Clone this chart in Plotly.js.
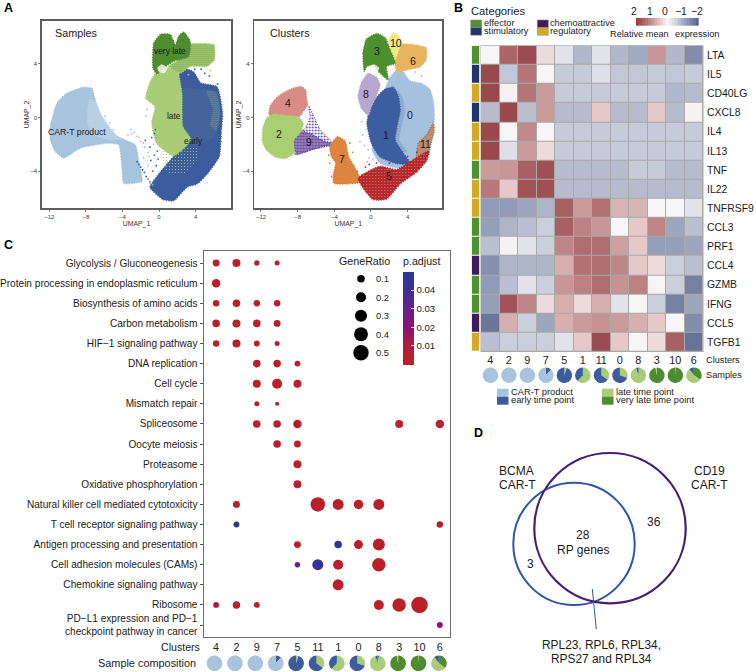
<!DOCTYPE html>
<html>
<head>
<meta charset="utf-8">
<script src="https://cdn.plot.ly/plotly-3.0.1.min.js"></script>
<style>html,body{margin:0;padding:0;background:#fff}#chart{width:756px;height:672px}</style>
</head>
<body>
<div id="chart"></div>
<script>
const N = null;
// ---------- Panel A: UMAP regions, [UMAP_1, UMAP_2]
const carT = [[-11.9,-1.67],[-11.9,-.67],[-11.17,1.07],[-10.07,1.82],[-8.25,2.26],[-7.34,2.19],[-6.97,1.32],[-6.42,.32],[-4.78,-1.29],[-3.69,-1.67],[-2.59,-2.04],[-2.23,-3.16],[-1.86,-4.78],[-3.87,-4.9],[-4.05,-3.91],[-4.42,-2.04],[-5.69,-1.92],[-8.61,-2.29],[-10.44,-3.03],[-11.35,-2.54]];
const carTSparse = [[-7.6,1.4],[-6.9,1.2],[-6.2,.1],[-4.8,-1.3],[-3.9,-1.6],[-5.5,-1.7],[-7.4,-1.2],[-7.9,-.2]];
const early = [[2.4,3.7],[3.8,3.4],[4.53,2.6],[6.35,2.3],[6.95,.32],[6.8,-1.17],[6.6,-2.91],[5.3,-4.2],[4.2,-4.95],[3.07,-5.2],[1.61,-6.2],[.51,-6.15],[-1,-5.2],[.1,-4.1],[1.61,-2.85],[2.4,-1.92],[2.2,-.67],[2.05,1.57]];
const late = [[-1.45,1.44],[-.95,2.7],[.15,3.75],[1.97,3.5],[2.5,1.82],[2.6,-.67],[3.5,-1.67],[1.61,-2.85],[-.25,-1.95],[-.8,-.42],[-.45,.82]];
const lateMix = [[2.5,2.1],[5.99,1.9],[6.72,.32],[5.99,-1.42],[3.8,-2.16],[2.5,-1.17]];
const lateRim = [[5.2,2],[6.3,1.9],[6.7,.3],[6.3,-1],[5.6,-.6],[5.9,.6]];
const earlyEdge = [[.3,-2.6],[2.4,-2.2],[4.2,-2.3],[4,-3.4],[2.4,-4.3],[.9,-4.1]];
const lateBand = [[2.88,5.42],[5.99,5.42],[6.06,4.3],[5.26,3.81],[3.43,3.81],[2.34,3.31],[1.06,3.81],[2.7,4.55]];
const veryLate = [[-.66,3.68],[-.58,5.55],[.15,6.2],[1.24,6.2],[1.79,5.42],[2.15,6.08],[2.7,6.38],[3.43,5.67],[3.25,4.55],[1.61,4.2],[.51,3.7],[-.22,3.25]];
const gapRegion = [[-.2,3.7],[.3,3.98],[.9,3.7],[.6,3.3],[0,3.4]];
const carTStray = [[-3.1,-.9],[-2.7,-1.1],[-2.4,-1.4],[-3.4,-1.3],[-2,-1.8],[-1.6,-2.2],[-1.2,-2.6],[-1.7,-3],[-1.2,-3.6],[-5.4,-.4],[-5.9,.1],[-5,-.9],[-3,-1.2],[-2.2,-1.5]];
const earlyStray = [[-2.4,-3.3],[-2.2,-3.5],[-2,-3.7],[-1.8,-3.9],[-1.6,-4.1],[-1.4,-4.4],[-1.2,-4.6],[-1,-4.8],[-.8,-1.5],[-.5,-1.2],[-1,-2.2],[-.4,-.9],[-1.5,-1.7],[-.5,-2.8],[-.9,-3.2],[-.3,-3.6],[-.7,-4],[5.5,3.1],[5,3.3],[4.6,3.6],[3.9,3.6],[6.4,2.5],[-.1,-3.1],[-.2,-2.5]];
const lateStray = [[-1.2,-4.6],[-1,-4.9],[-.7,-5],[-1.1,-2.9],[-.6,-2],[-1.3,.6],[-1.4,.1],[5.6,3.5],[3.2,3.2],[.6,-.2],[-1.7,-1.9]];
// Clusters
const c0 = [[1.53,2.06],[2.07,3],[3.16,3.7],[4.25,2.75],[5.53,2.55],[6.44,2.1],[6.85,1.07],[6.9,-.3],[6.3,-1.42],[5.16,-2.16],[4.98,-3.16],[3.16,-3.78],[.98,-3.41],[.07,-2.29],[.98,-1.67]];
const c1 = [[-.45,-.42],[-.15,.57],[.6,1.5],[1.53,2.12],[2.44,2.25],[3,1.57],[3.2,.57],[2.85,-.67],[2.65,-1.67],[3.55,-2.66],[4.3,-3.45],[2.8,-3.45],[.98,-2.95],[.05,-1.95]];
const c01Blend = [[2.3,2.4],[3.4,1.6],[3.7,.4],[3.3,-.8],[3.1,-1.7],[4,-2.6],[2.9,-2.4],[2.4,-1],[2.6,.5]];
const c2 = [[-11.85,-1.79],[-11.8,-.8],[-11.4,-.05],[-10.65,.25],[-9.38,.15],[-7.93,.05],[-7.4,-.42],[-7.6,-1.04],[-8.4,-1.67],[-8.4,-2.66],[-9.38,-3.08],[-10.47,-2.95],[-11.42,-2.41]];
const c3 = [[-.73,3.43],[-.88,4.8],[-.5,5.85],[.62,6.27],[1.53,5.97],[2.1,5.05],[2.65,4.05],[1.71,3.81],[1.89,2.81],[.8,3.43],[.25,3.93],[-.47,3.81]];
const c4 = [[-11.12,.2],[-11,.87],[-10.32,1.48],[-9.38,1.92],[-8.29,2.24],[-7.56,2.31],[-7.1,2.01],[-7.03,1.44],[-6.9,.95],[-7.5,.32],[-7.9,.02],[-9.56,.12]];
const c5 = [[-1.42,-4.53],[-.29,-4],[.98,-3.63],[2.8,-3.88],[4.62,-3.13],[6.3,-2.5],[6.12,-3.16],[5,-4.06],[3.2,-4.95],[1.74,-6.07],[.25,-6.14],[-.7,-5.43]];
const c6 = [[3.35,5.45],[4.62,5.45],[6.03,5.2],[6.03,4.3],[5.38,3.78],[3.89,3.53],[2.8,3.4],[2.6,4.18],[2.96,4.93]];
const c7 = [[-4.5,-2.16],[-3.67,-1.42],[-2.8,-1.79],[-2.43,-2.91],[-1.34,-4.28],[-1.23,-4.82],[-2.29,-4.95],[-4.08,-4.9],[-4.08,-4.15],[-3.85,-3.41],[-4.33,-2.91]];
const c8 = [[-1.42,1.57],[-1.05,2.6],[-.29,3.3],[.65,2.97],[1,2.44],[.62,1.69],[.07,.82],[-.29,.17],[-1.05,.7]];
const c9 = [[-6.84,.95],[-6.29,.2],[-5.64,-.8],[-4.47,-1.67],[-4.18,-2.04],[-6.29,-2.36],[-8.29,-2.79],[-8.65,-2.16],[-8.18,-1.29],[-7.2,-.8],[-6.65,.07]];
const c9Core = [[-8.47,-1.79],[-7.56,-1.04],[-6.65,-1.17],[-5.38,-1.67],[-4.29,-1.97],[-6.29,-2.36],[-8.11,-2.71]];
const c10 = [[1.97,5.8],[2.44,6.33],[3,6.12],[3.38,5.55],[3,5.05],[2.62,4.27],[2.22,4.8]];
const c11 = [[5.16,-1.92],[6.07,-1.29],[6.8,-.42],[6.92,-.92],[6.47,-2.16],[6.28,-2.79],[4.98,-3.41],[4.98,-2.66]];
const clusterStray = [[-.9,-1.3],[-.5,-.9],[-1.2,-1.8],[-.3,-2.4],[-.7,-2.1],[-.2,-3],[-1,-.3],[5.5,3.1],[4.8,3.4],[.2,-3.1],[-.4,-3.3]];
const redStray = [[-.6,-3.7],[-.2,-3.5],[.6,-3.4],[2,-3.4],[-1,-4.3],[4,-2.9],[5,-2.6]];
const orangeStray = [[-1.9,-3.6],[-1.5,-4],[-4.5,-3.4],[-2.3,-1.9],[-4.3,-4.4],[-2,-2.6],[-4.6,-2.8]];

const samplesTextItems = ["very late","late","early","CAR-T product"];
const umapTicks = [-12,-8,-4,0,4];
const umapYTicks = [-4,0,4];

// ---------- Panel B
const heatClusters = ["4","2","9","7","5","1","11","0","8","3","10","6"];
const heatGenes = ["LTA","IL5","CD40LG","CXCL8","IL4","IL13","TNF","IL22","TNFRSF9","CCL3","PRF1","CCL4","GZMB","IFNG","CCL5","TGFB1"];
const geneCategory = ["effector","stimulatory","regulatory","stimulatory","regulatory","regulatory","effector","regulatory","regulatory","effector","effector","chemoattractive","effector","effector","chemoattractive","regulatory"];
const categoryNames = ["effector","stimulatory","chemoattractive","regulatory"];
const relativeExpression = [
 [-.03,1.6,1.9,.3,-.3,-.9,-.3,-.9,-1.1,1.0,-.9,-1.5],
 [1.95,-.7,1.4,.02,-.65,-.65,-.35,-.7,-.7,-.65,-.7,-.65],
 [1.95,.05,1.4,.95,-.65,-.65,-.65,-.65,-.65,-.65,-.9,-.85],
 [-.85,1.95,-.8,.95,-.85,-.85,.5,-.85,-.85,.5,-.85,.04],
 [1.95,-.02,1.15,.02,-.65,-.65,-.65,-.65,-.65,-.65,-.65,-.65],
 [1.95,-.35,.95,.3,-.65,-.65,-.65,-.65,-.65,-.65,-.65,-.65],
 [.95,1.0,1.65,1.85,-.85,-.85,-.85,-.85,-.65,-.65,-.85,-.85],
 [1.35,.5,1.8,1.85,-.85,-.85,-.85,-.85,-.85,-.85,-.85,-.85],
 [-1.3,-1.3,-1.15,-.95,1.65,.95,1.45,.7,.7,-.01,-.01,-.3],
 [-1.25,-.95,-.8,-.6,1.65,1.25,1.0,-.02,.5,1.2,-1.15,-.8],
 [-.8,.05,-.3,-.6,1.2,1.5,1.5,.9,.5,-1.25,-1.25,-1.15],
 [-1.45,-.95,-.95,-.95,.75,1.45,1.5,1.2,.5,.3,-.6,-.8],
 [-1.3,-.8,-.3,-.6,1.0,1.25,1.5,1.05,1.25,.03,-.6,-1.65],
 [-1.25,1.8,1.2,.3,.75,.3,.75,-.3,.03,-.6,-1.65,-1.15],
 [-1.8,.75,-.6,-1.15,.75,.95,1.05,.95,.75,.5,-.01,-1.5],
 [-.8,-.6,-.6,-.6,-.3,.5,1.9,.5,.03,.3,1.65,-1.85]
];
const keyValues = [2,1.8,1.6,1.4,1.2,1,.8,.6,.4,.2,0,-.2,-.4,-.6,-.8,-1,-1.2,-1.4,-1.6,-1.8,-2];
const keyLabels = ["2","1","0","−1","−2"];

// Sample composition by cluster, clockwise from 12 o'clock
const sampleNames = ["very late time point","late time point","early time point","CAR-T product"];
const compClusters = ["4","2","9","7","5","11","1","0","8","3","10","6"];
const veryLateShare = [0,0,0,0,0,0,0,0,3,97,99,35];
const lateShare     = [0,0,0,0,5,35,62,30,92,3,1,55];
const earlyShare    = [1,1,1,12,95,65,38,70,5,0,0,10];
const carTShare     = [99,99,99,88,0,0,0,0,0,0,0,0];

// ---------- Panel C
const pathways = ["Glycolysis / Gluconeogenesis","Protein processing in endoplasmic reticulum","Biosynthesis of amino acids","Carbon metabolism","HIF−1 signaling pathway","DNA replication","Cell cycle","Mismatch repair","Spliceosome","Oocyte meiosis","Proteasome","Oxidative phosphorylation","Natural killer cell mediated cytotoxicity","T cell receptor signaling pathway","Antigen processing and presentation","Cell adhesion molecules (CAMs)","Chemokine signaling pathway","Ribosome","PD−L1 expression and PD−1<br>checkpoint pathway in cancer"];
const dotClusters = ["4","2","9","7","5","11","1","0","8","3","10","6"];
const geneRatio = [
 [.08,.115,.04,.03,N,N,N,N,N,N,N,N],
 [.134,N,N,N,N,N,N,N,N,N,N,N],
 [.067,.1,.067,.067,N,N,N,N,N,N,N,N],
 [.1,.115,.1,.08,N,N,N,N,N,N,N,N],
 [.067,.115,.05,.03,N,N,N,N,N,N,N,N],
 [N,N,.1,.1,.05,N,N,N,N,N,N,N],
 [N,N,.115,.196,.115,N,N,N,N,N,N,N],
 [N,N,.03,.01,N,N,N,N,N,N,N,N],
 [N,N,.1,.1,.134,N,N,N,N,.115,N,.134],
 [N,N,N,.1,.08,N,N,N,N,N,N,N],
 [N,N,N,N,.115,N,N,N,N,N,N,N],
 [N,N,N,N,.115,N,N,N,N,N,N,N],
 [N,.08,N,N,N,.44,.242,.174,.242,N,N,N],
 [N,.05,N,N,N,N,N,N,N,N,N,.067],
 [N,N,N,N,.08,N,.1,.153,.293,N,N,N],
 [N,N,N,N,.04,.242,.196,N,.378,N,N,N],
 [N,N,N,N,N,N,.242,N,N,N,N,N],
 [.05,.1,.05,N,N,N,N,N,.196,.378,.578,N],
 [N,N,N,N,N,N,N,N,N,N,N,.05]
];
const pAdjust = [
 [.002,.002,.002,.004,N,N,N,N,N,N,N,N],
 [.002,N,N,N,N,N,N,N,N,N,N,N],
 [.002,.002,.002,.002,N,N,N,N,N,N,N,N],
 [.002,.002,.002,.002,N,N,N,N,N,N,N,N],
 [.002,.002,.002,.007,N,N,N,N,N,N,N,N],
 [N,N,.002,.002,.003,N,N,N,N,N,N,N],
 [N,N,.002,.002,.002,N,N,N,N,N,N,N],
 [N,N,.002,.004,N,N,N,N,N,N,N,N],
 [N,N,.002,.002,.002,N,N,N,N,.002,N,.002],
 [N,N,N,.002,.002,N,N,N,N,N,N,N],
 [N,N,N,N,.002,N,N,N,N,N,N,N],
 [N,N,N,N,.002,N,N,N,N,N,N,N],
 [N,.004,N,N,N,.002,.002,.002,.002,N,N,N],
 [N,.048,N,N,N,N,N,N,N,N,N,.003],
 [N,N,N,N,.002,N,.044,.002,.002,N,N,N],
 [N,N,N,N,.03,.042,.002,N,.002,N,N,N],
 [N,N,N,N,N,N,.002,N,N,N,N,N],
 [.012,.003,.003,N,N,N,N,N,.002,.002,.002,N],
 [N,N,N,N,N,N,N,N,N,N,N,.019]
];
const ratioLegend = [.1,.2,.3,.4,.5];
const pTicks = [.01,.02,.03,.04];

// ---------- Panel D
const vennCounts = {bcmaOnly:"3", shared:"28", cd19Only:"36"};

// ---------- Style
const W=756,H=672;
const FONT="'Liberation Sans', Arial, sans-serif";
const COL={carT:'#a8c3de',early:'#3d5c9d',late:'#a9cd76',vlate:'#4e8c2f',
  c0:'#a6c1dd',c1:'#3c5d9f',c2:'#a9cf72',c3:'#4d8e2f',c4:'#d98c86',c5:'#b5282b',c6:'#e6b35f',c7:'#d9772c',c8:'#b9a5d0',c9:'#5a3c98',c10:'#f0ea86',c11:'#a5683e'};
const dx=(a,b)=>[a/W,b/W];
const dy=(t,b)=>[1-b/H,1-t/H];
const annotations=[];
function note(text,x,y,o={}){
  annotations.push({text:text,x:x/W,y:1-y/H,xref:'paper',yref:'paper',showarrow:false,
    xanchor:o.a||'center',yanchor:'middle',borderpad:0,borderwidth:0,align:o.align||'center',
    textangle:o.angle||0,font:{family:FONT,size:o.size||10,color:o.color||'#1a1a1a'}});
}
const traces=[];
function region(pts,color,xa,ya,o={}){
  const closed=pts.concat([pts[0]]);
  const t={type:'scatter',mode:'lines',x:closed.map(p=>p[0]),y:closed.map(p=>p[1]),xaxis:xa,yaxis:ya,
    fill:'toself',fillcolor:o.fill||color,hoverinfo:'skip',showlegend:false,
    line:{color:o.edge||color,width:o.edgeWidth===undefined?1.4:o.edgeWidth,dash:'1px,1.5px',shape:'spline',smoothing:.5}};
  if(o.pattern){t.fillpattern=Object.assign({shape:'.',size:3,solidity:.35},o.pattern);delete t.fillcolor;}
  traces.push(t);
}
function stray(pts,color,xa,ya,size){
  traces.push({type:'scatter',mode:'markers',x:pts.map(p=>p[0]),y:pts.map(p=>p[1]),xaxis:xa,yaxis:ya,
    marker:{color:color,size:size||1.8,opacity:1},hoverinfo:'skip',showlegend:false});
}
const clear='rgba(0,0,0,0)';
// Samples
region(carT,COL.carT,'x','y');
region(carTSparse,'#fff','x','y',{pattern:{fgcolor:'#ffffff',bgcolor:clear,size:2,solidity:.22},edgeWidth:0});
region(early,COL.early,'x','y');
region(late,COL.late,'x','y');
region(lateMix,COL.early,'x','y',{pattern:{fgcolor:COL.late,bgcolor:clear,size:2,solidity:.1},edgeWidth:0});
region(lateRim,COL.early,'x','y',{pattern:{fgcolor:COL.late,bgcolor:clear,size:2,solidity:.22},edgeWidth:0});
region(earlyEdge,COL.late,'x','y',{pattern:{fgcolor:COL.late,bgcolor:clear,size:3,solidity:.12},edgeWidth:0});
region(lateBand,COL.late,'x','y',{pattern:{fgcolor:COL.vlate,bgcolor:COL.late,size:2,solidity:.3}});
region(veryLate,COL.vlate,'x','y');
region(gapRegion,'#fff','x','y',{pattern:{fgcolor:'#ffffff',bgcolor:'rgba(255,255,255,.6)',size:2,solidity:.5},edgeWidth:0});
stray(carTStray,COL.carT,'x','y');
stray(earlyStray,COL.early,'x','y');
stray(lateStray,COL.late,'x','y');
// Clusters
region(c9,COL.c9,'x2','y2',{pattern:{fgcolor:COL.c9,bgcolor:clear,size:3,solidity:.3},edgeWidth:.8});
region(c9Core,COL.c9,'x2','y2',{pattern:{fgcolor:COL.c9,bgcolor:'rgba(90,60,152,.35)',size:2,solidity:.5}});
region(c4,COL.c4,'x2','y2');
region(c2,COL.c2,'x2','y2');
region(c7,COL.c7,'x2','y2',{pattern:{fgcolor:COL.c7,bgcolor:'#e0904e',size:2,solidity:.5}});
region(c0,COL.c0,'x2','y2');
region(c1,COL.c1,'x2','y2');
region(c01Blend,COL.c1,'x2','y2',{pattern:{fgcolor:COL.c1,bgcolor:clear,size:2,solidity:.25},edgeWidth:0});
region(c11,COL.c11,'x2','y2',{pattern:{fgcolor:COL.c11,bgcolor:'#c9a993',size:2,solidity:.5}});
region(c5,COL.c5,'x2','y2',{pattern:{fgcolor:'#d98a84',bgcolor:COL.c5,size:3,solidity:.12}});
region(c8,COL.c8,'x2','y2');
region(c6,COL.c6,'x2','y2');
region(c10,COL.c10,'x2','y2');
region(c3,COL.c3,'x2','y2');
region(gapRegion,'#fff','x2','y2',{pattern:{fgcolor:'#ffffff',bgcolor:'rgba(255,255,255,.6)',size:2,solidity:.5},edgeWidth:0});
stray(clusterStray,COL.c0,'x2','y2');
stray(redStray,COL.c5,'x2','y2');
stray(orangeStray,COL.c7,'x2','y2');

// Heatmap
const heatScale=[[0,'#5a678f'],[.25,'#aab1c6'],[.375,'#d2d6e2'],[.5,'#f8f7f7'],[.625,'#e5c8c8'],[.75,'#c89696'],[1,'#974448']];
traces.push({type:'heatmap',x:heatClusters,y:heatGenes,z:relativeExpression,xaxis:'x3',yaxis:'y3',zmin:-2,zmax:2,
  colorscale:heatScale,showscale:false,xgap:1,ygap:1,hoverongaps:false});
const catColors=['#4f9032','#1f3469','#3f1a5c','#d3aa22'];
const strip=geneCategory.map(g=>[categoryNames.indexOf(g)]);
traces.push({type:'heatmap',x:['category'],y:heatGenes,z:strip,xaxis:'x4',yaxis:'y4',zmin:0,zmax:3,showscale:false,ygap:1,
  colorscale:[[0,catColors[0]],[.25,catColors[0]],[.25,catColors[1]],[.5,catColors[1]],[.5,catColors[2]],[.75,catColors[2]],[.75,catColors[3]],[1,catColors[3]]]});
traces.push({type:'heatmap',x:keyValues,y:['key'],z:[keyValues],xaxis:'x5',yaxis:'y5',zmin:-2,zmax:2,colorscale:heatScale,showscale:false});

// Dot plot
const dotX=[],dotY=[],dotS=[],dotC=[];
geneRatio.forEach((row,r)=>row.forEach((v,c)=>{ if(v!==N){dotX.push(dotClusters[c]);dotY.push(pathways[r]);dotS.push(Math.sqrt(12+450*v));dotC.push(pAdjust[r][c]);}}));
const dotScale=[[0,'#bd2026'],[.2,'#b31c3c'],[.4,'#8e1072'],[.62,'#66208e'],[.85,'#35329a'],[1,'#263b97']];
traces.push({type:'scatter',mode:'markers',x:dotX,y:dotY,xaxis:'x6',yaxis:'y6',showlegend:false,
  marker:{size:dotS,color:dotC,cmin:0,cmax:.05,colorscale:dotScale,opacity:1,line:{width:0},
    colorbar:{x:403/W,xanchor:'left',xpad:0,ypad:0,y:1-318/H,yanchor:'middle',lenmode:'pixels',len:92.6,thicknessmode:'pixels',thickness:10.7,
      outlinewidth:0,tickvals:pTicks,ticktext:pTicks.map(String),ticks:'inside',ticklen:3,tickcolor:'#fff',tickwidth:.8,
      tickfont:{family:FONT,size:9.6,color:'#1a1a1a'}}}});
traces.push({type:'scatter',mode:'markers',x:ratioLegend.map(()=>0),y:ratioLegend,xaxis:'x7',yaxis:'y7',showlegend:false,hoverinfo:'skip',
  marker:{color:'#000',opacity:1,size:ratioLegend.map(v=>Math.sqrt(12+450*v)),line:{width:0}}});

// Pies
const pieColors=[COL.vlate,COL.late,COL.early,COL.carT];
function pie(i,cx,cy,d){
  traces.push({type:'pie',values:[veryLateShare[i],lateShare[i],earlyShare[i],carTShare[i]],labels:sampleNames,sort:false,direction:'clockwise',rotation:0,
    textinfo:'none',hoverinfo:'label+percent',showlegend:false,marker:{colors:pieColors,line:{width:0}},
    domain:{x:dx(cx-d/2,cx+d/2),y:dy(cy-d/2,cy+d/2)}});
}
// Heatmap columns share the order 4 2 9 7 5 1 11 0 8 3 10 6
heatClusters.forEach((c,i)=>pie(compClusters.indexOf(c),490.4+18.5*i,375.3,15.4));
compClusters.forEach((c,i)=>pie(i,214.5+20.4*i,663.3,15.6));

// Axes
const hidden={visible:false,fixedrange:true};
const umapTitle=t=>({text:t,font:{family:FONT,size:6.9,color:'#333'},standoff:0});
function umapAxis(o){return Object.assign({showgrid:false,zeroline:false,showline:true,mirror:true,linecolor:'#5e5e5e',linewidth:1.6,
  ticks:'outside',ticklen:2,tickwidth:.7,tickcolor:'#444',tickfont:{family:FONT,size:6,color:'#333'},tickmode:'array'},o);}
const layout={
  width:W,height:H,margin:{l:0,r:0,t:0,b:0,pad:0,autoexpand:false},paper_bgcolor:'#fff',plot_bgcolor:'rgba(0,0,0,0)',showlegend:false,
  font:{family:FONT},
  xaxis:umapAxis({domain:dx(42,231),anchor:'y',range:[-12.8,7.87],tickvals:umapTicks,title:umapTitle('UMAP_1')}),
  yaxis:umapAxis({domain:dy(21,208),anchor:'x',range:[-6.75,7.2],tickvals:umapYTicks,title:umapTitle('UMAP_2')}),
  xaxis2:umapAxis({domain:dx(254.3,442.3),anchor:'y2',range:[-12.73,7.78],tickvals:umapTicks,title:umapTitle('UMAP_1')}),
  yaxis2:umapAxis({domain:dy(21,208),anchor:'x2',range:[-6.75,7.2],tickvals:umapYTicks,title:umapTitle('UMAP_2')}),
  xaxis3:{domain:dx(481,703),anchor:'y3',type:'category',range:[-.5,11.5],ticks:'',showgrid:false,zeroline:false,showline:false,tickfont:{family:FONT,size:10.8,color:'#1a1a1a'}},
  yaxis3:{domain:dy(45.7,351.7),anchor:'x3',type:'category',side:'right',range:[15.5,-.5],ticks:'',ticklabelstandoff:3,showgrid:false,zeroline:false,showline:false,tickfont:{family:FONT,size:10.4,color:'#1a1a1a'}},
  xaxis4:Object.assign({domain:dx(471.7,479.3),anchor:'y4',type:'category'},hidden),
  yaxis4:Object.assign({domain:dy(45.7,351.7),anchor:'x4',type:'category',range:[15.5,-.5]},hidden),
  xaxis5:Object.assign({domain:dx(635.7,699),anchor:'y5',range:[2.1,-2.1]},hidden),
  yaxis5:Object.assign({domain:dy(17.7,26),anchor:'x5',type:'category'},hidden),
  xaxis6:{domain:dx(203.5,450),anchor:'y6',type:'category',categoryorder:'array',categoryarray:dotClusters,range:[-.62,11.5],ticks:'',showgrid:false,zeroline:false,
    showline:true,mirror:true,linecolor:'#6e6e6e',linewidth:1,tickfont:{family:FONT,size:10.8,color:'#1a1a1a'},ticklabelshift:-1.5,tickmode:'array',tickvals:dotClusters,ticktext:dotClusters},
  yaxis6:{domain:dy(251,636.7),anchor:'x6',type:'category',categoryorder:'array',categoryarray:pathways,range:[18.58,-.6],ticks:'outside',ticklen:3,tickwidth:1,tickcolor:'#555',showgrid:false,zeroline:false,
    showline:true,mirror:true,linecolor:'#6e6e6e',linewidth:1,tickfont:{family:FONT,size:10.1,color:'#1a1a1a'},tickmode:'array',tickvals:pathways,ticktext:pathways},
  xaxis7:Object.assign({domain:dx(352,370),anchor:'y7',range:[-1,1]},hidden),
  yaxis7:Object.assign({domain:dy(270,362),anchor:'x7',range:[.55,.053]},hidden),
  annotations:annotations,
  shapes:[]
};
// Heatmap grid backing
const paperRect=(x0,t,x1,b,fill,line)=>({type:'rect',xref:'paper',yref:'paper',x0:x0/W,x1:x1/W,y0:1-t/H,y1:1-b/H,fillcolor:fill,line:{color:line||fill,width:line?.6:0},layer:'below'});
layout.shapes.push(paperRect(480.5,45.2,703.5,352,'#a9a9a9'));
// Category swatches
[[470.7,20,catColors[0]],[470.7,27.6,catColors[1]],[537.3,20,catColors[2]],[537.3,27.6,catColors[3]]].forEach(s=>layout.shapes.push(paperRect(s[0],s[1],s[0]+11,s[1]+7.6,s[2],'#8c8c8c')));
// Sample swatches
[[497,388.7,COL.carT],[497,396.7,COL.early],[602,388.7,COL.late],[602,396.7,COL.vlate]].forEach(s=>layout.shapes.push(paperRect(s[0],s[1],s[0]+11.5,s[1]+8,s[2])));
// Venn
const circle=(x0,t,x1,b,c,w)=>({type:'circle',xref:'paper',yref:'paper',x0:x0/W,x1:x1/W,y0:1-t/H,y1:1-b/H,line:{color:c,width:w},fillcolor:'rgba(0,0,0,0)'});
layout.shapes.push(circle(513.3,482.7,634.7,605,'#2f56a4',2));
layout.shapes.push(circle(534.3,453,685.7,603.3,'#3f1f79',2.2));
layout.shapes.push({type:'line',xref:'paper',yref:'paper',x0:592.3/W,x1:596.3/W,y0:1-589/H,y1:1-629/H,line:{color:'#2f56a4',width:1}});

// Text
note('<b>A</b>',8,8,{size:12.5,color:'#000'});
note('<b>B</b>',458,8,{size:12.5,color:'#000'});
note('<b>C</b>',8,245,{size:12.5,color:'#000'});
note('<b>D</b>',478,433,{size:12.5,color:'#000'});
note('Samples',55,33,{a:'left',size:10.8});
note(samplesTextItems[0],170,51,{size:8.4});
note(samplesTextItems[1],174,116,{size:8.4});
note(samplesTextItems[2],193,140.7,{size:8.4});
note(samplesTextItems[3],76.7,131.7,{size:8.7});
note('Clusters',269.5,33,{a:'left',size:10.8});
[['4',288,103.3],['2',278.7,133.7],['9',309,142.3],['7',342.3,159.3],['5',388.7,175.7],['1',385.7,135],['0',409.7,115.3],['11',425,144],['8',366,94.3],['3',377.3,51],['10',395.7,43],['6',412.7,61]].forEach(l=>note(l[0],l[1],l[2],{size:10.5}));
note('Categories',470.5,10.5,{a:'left',size:11.2});
note('effector',484,23,{a:'left',size:9.2});
note('stimulatory',484,31,{a:'left',size:9.2});
note('chemoattractive',550,23,{a:'left',size:9.2});
note('regulatory',550,31,{a:'left',size:9.2});
[634,649.7,665,681,697].forEach((x,i)=>note(keyLabels[i],x,11,{size:10.4}));
note('Relative mean',610,34,{a:'left',size:9.2});
note('expression',719,34,{a:'right',size:9.2});
note('Clusters',706,360,{a:'left',size:9.2});
note('Samples',706,375.3,{a:'left',size:9.2});
note('CAR-T product',510.5,392,{a:'left',size:9.3});
note('early time point',510.5,400,{a:'left',size:9.3});
note('late time point',615.5,392,{a:'left',size:9.3});
note('very late time point',615.5,400,{a:'left',size:9.3});
note('GeneRatio',364,260.7,{size:10.7});
note('p.adjust',421,260.7,{size:10.7});
ratioLegend.forEach((v,i)=>note(String(v),376,278.7+18.5*i,{a:'left',size:9.4}));
note('Clusters',200,647,{a:'right',size:10.6});
note('Sample composition',196,663.3,{a:'right',size:10.9});
note('BCMA',516,470.7,{size:12});
note('CAR-T',517.7,485,{size:12});
note('CD19',709,470.7,{size:12});
note('CAR-T',709.3,485,{size:12});
note(vennCounts.cd19Only,654.3,522.3,{size:12});
note(vennCounts.shared,582.7,535,{size:12});
note('RP genes',583,550,{size:12});
note(vennCounts.bcmaOnly,530,564,{size:12});
note('RPL23, RPL6, RPL34,',601.7,645,{size:11.9});
note('RPS27 and RPL34',601.7,659.3,{size:11.9});

Plotly.newPlot('chart',traces,layout,{staticPlot:true,displayModeBar:false});
</script>
</body>
</html>
